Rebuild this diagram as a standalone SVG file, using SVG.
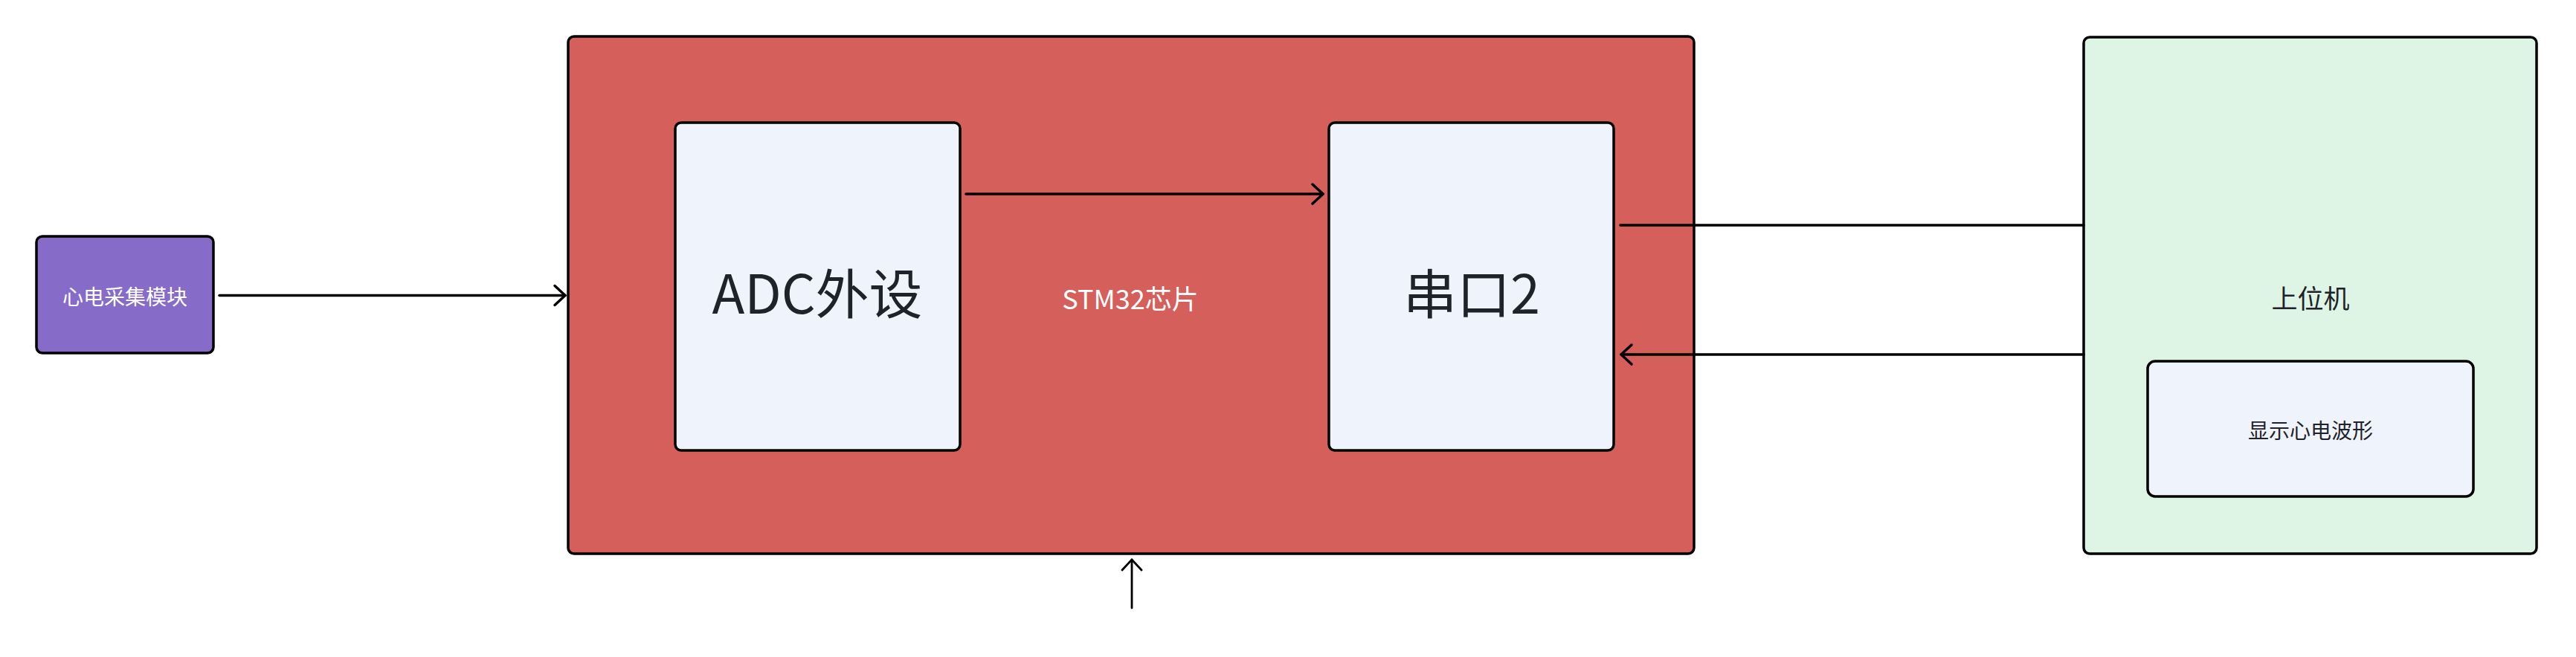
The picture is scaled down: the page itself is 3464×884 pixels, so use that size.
<svg xmlns="http://www.w3.org/2000/svg" width="3464" height="884" viewBox="0 0 3464 884">
  <style>
    .box { stroke: #000; stroke-width: 3.5; }
    .txt { font-family: "Noto Sans CJK SC", "Noto Sans", sans-serif; text-anchor: middle; dominant-baseline: central; }
    .dark { fill: #1f2329; }
    .light { fill: #ffffff; }
    .conn { fill: none; stroke: #000; stroke-width: 3.5; stroke-linecap: round; }
  </style>
  <defs>
    <marker id="arr" markerUnits="userSpaceOnUse" markerWidth="40" markerHeight="40" refX="0" refY="0" orient="auto" overflow="visible">
      <path d="M-14,-13 L0,0 L-14,13" fill="none" stroke="#000" stroke-width="3.5" stroke-linecap="round" stroke-linejoin="round"/>
    </marker>
    <marker id="arrThin" markerUnits="userSpaceOnUse" markerWidth="40" markerHeight="40" refX="0" refY="0" orient="auto" overflow="visible">
      <path d="M-14,-13 L0,0 L-14,13" fill="none" stroke="#000" stroke-width="2.8" stroke-linecap="round" stroke-linejoin="round"/>
    </marker>
  </defs>
  <rect width="3464" height="884" fill="#ffffff"/>

  <g id="stm32">
    <rect class="box" x="764" y="49" width="1514" height="696" rx="8" fill="#d45f5b"/>
    <text class="txt light" x="1520" y="400" font-size="36">STM32芯片</text>
  </g>
  <g id="adc">
    <rect class="box" x="908" y="165" width="383" height="441" rx="8" fill="#eff4fc"/>
    <text class="txt dark" x="1099" y="390" font-size="72">ADC外设</text>
  </g>
  <g id="uart2">
    <rect class="box" x="1787" y="165" width="383" height="441" rx="8" fill="#eff4fc"/>
    <text class="txt dark" x="1979" y="390" font-size="72">串口2</text>
  </g>
  <g id="ecg">
    <rect class="box" x="49" y="318" width="238" height="157" rx="8" fill="#866bc8"/>
    <text class="txt light" x="168" y="398" font-size="28">心电采集模块</text>
  </g>
  <g id="host">
    <rect class="box" x="2802" y="50" width="609" height="695" rx="8" fill="#def5e5"/>
    <text class="txt dark" x="3107" y="399" font-size="35">上位机</text>
  </g>
  <g id="display">
    <rect class="box" x="2888" y="486" width="438" height="182" rx="10" fill="#eff4fc"/>
    <text class="txt dark" x="3107" y="578" font-size="28">显示心电波形</text>
  </g>

  <g id="connectors">
    <path class="conn" d="M295,397.5 H760" marker-end="url(#arr)"/>
    <path class="conn" d="M1299,261 H1779" marker-end="url(#arr)"/>
    <path class="conn" d="M2179,303 H2802"/>
    <path class="conn" d="M2802,477 H2180" marker-end="url(#arr)"/>
    <path class="conn" style="stroke-width:2.8" d="M1522,818 V753" marker-end="url(#arrThin)"/>
  </g>
</svg>
